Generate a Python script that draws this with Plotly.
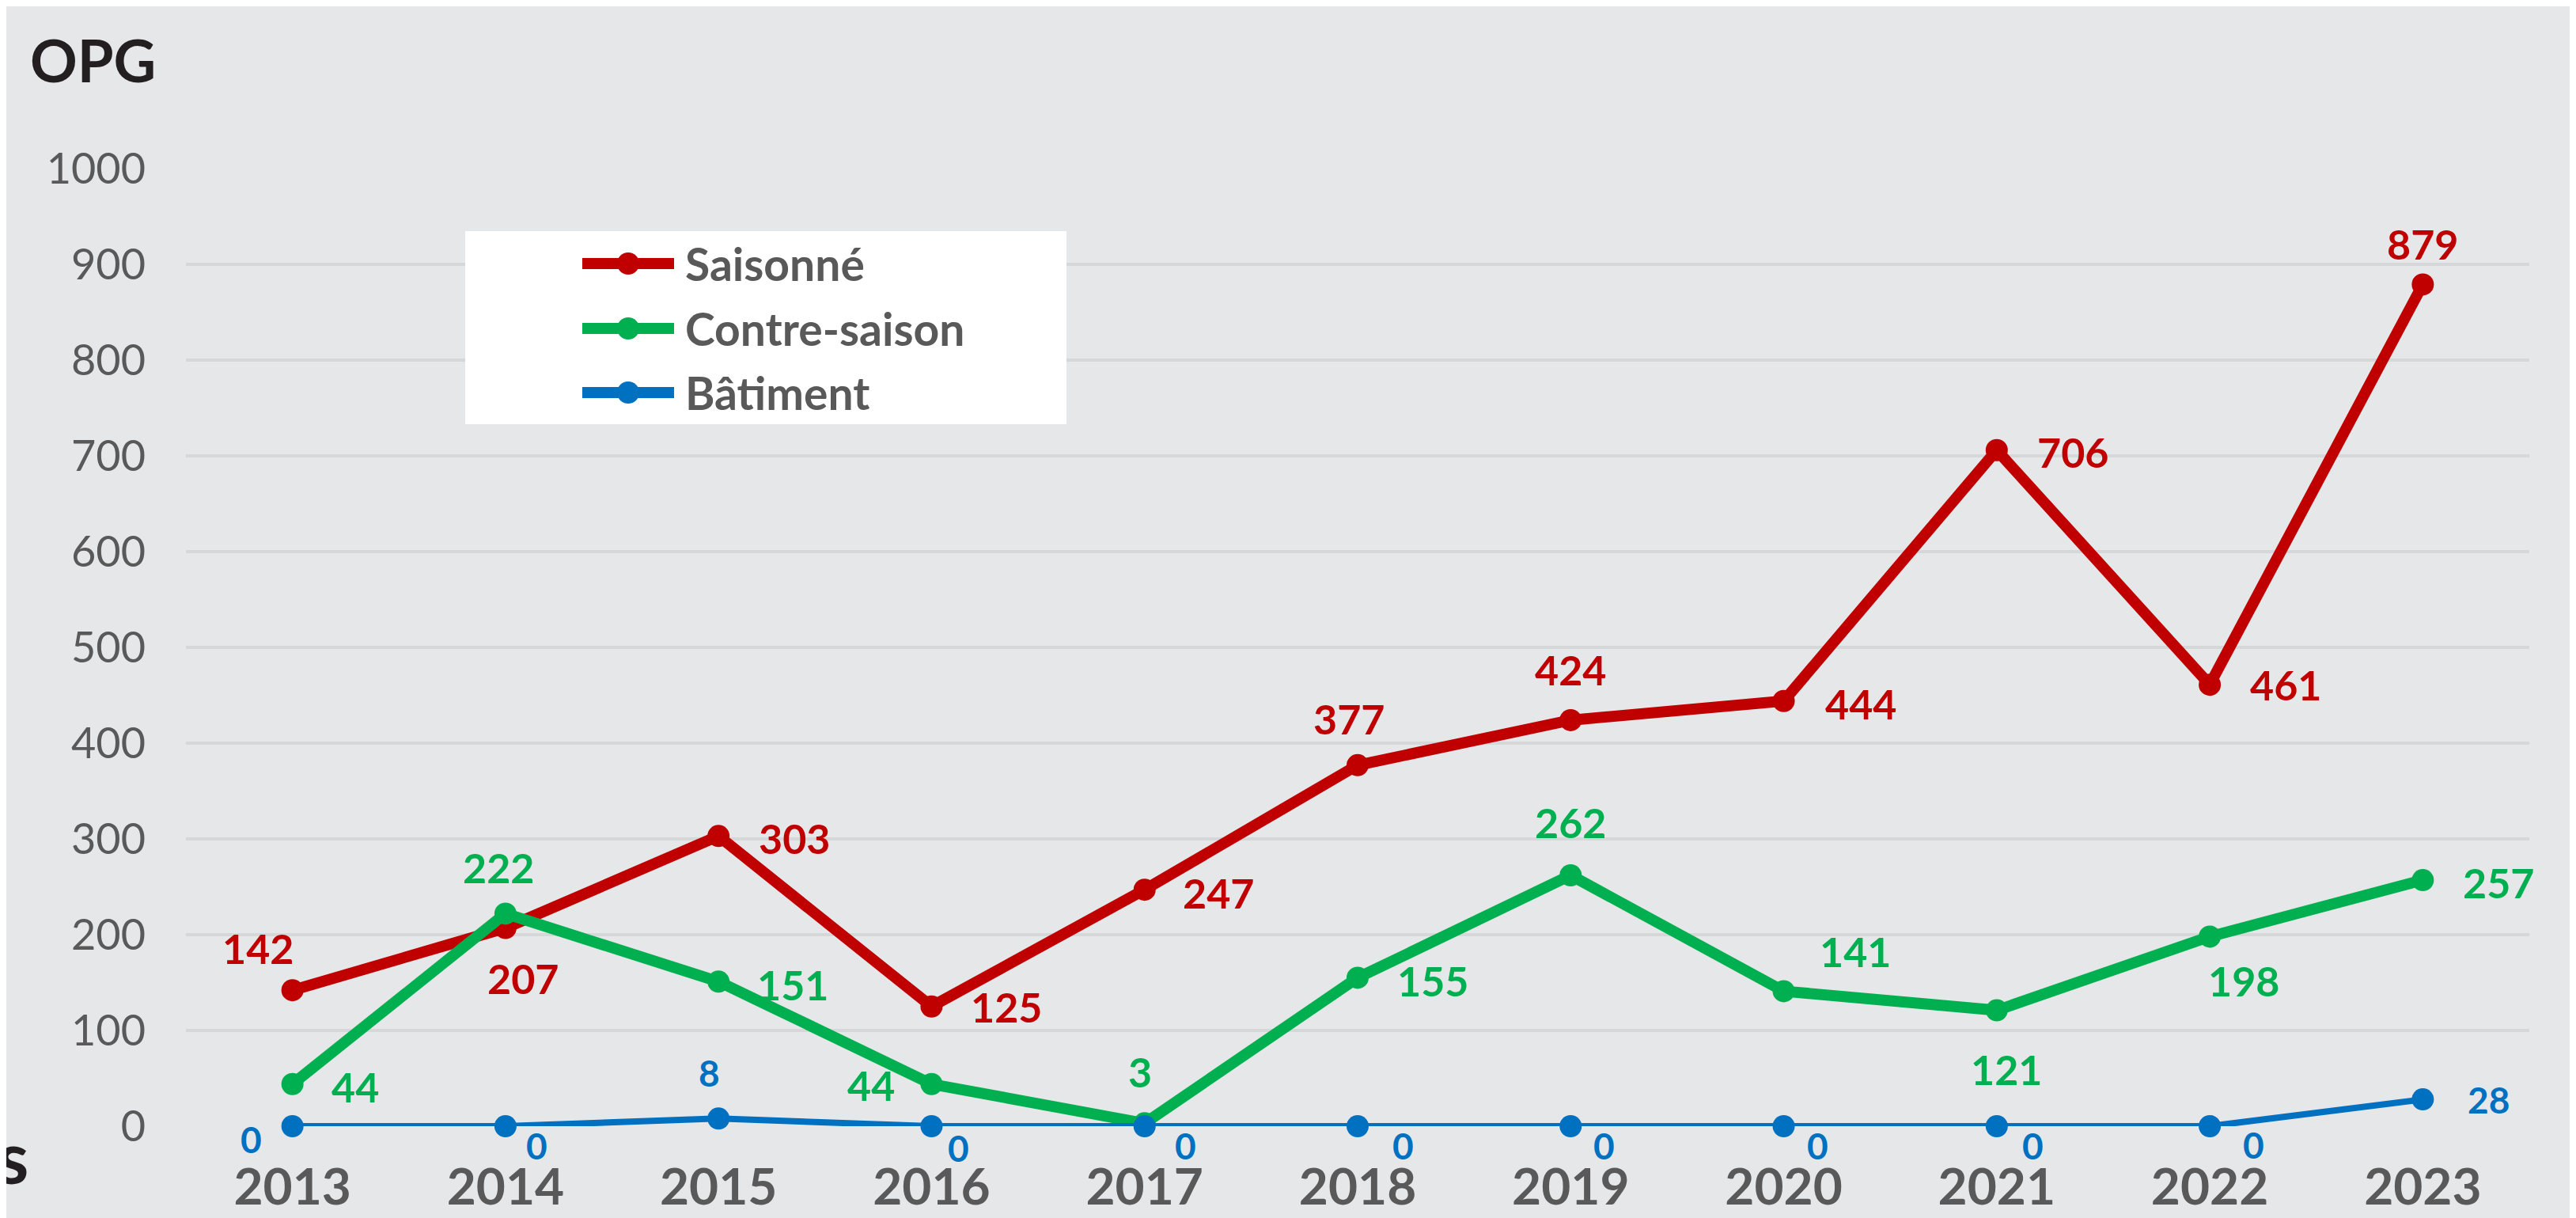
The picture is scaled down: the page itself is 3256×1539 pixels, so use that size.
import plotly.graph_objects as go

years = ["2013", "2014", "2015", "2016", "2017", "2018", "2019", "2020", "2021", "2022", "2023"]
saisonne = [142, 207, 303, 125, 247, 377, 424, 444, 706, 461, 879]
contre_saison = [44, 222, 151, 44, 3, 155, 262, 141, 121, 198, 257]
batiment = [0, 0, 8, 0, 0, 0, 0, 0, 0, 0, 28]
series_names = ["Saisonné", "Contre-saison", "Bâtiment"]
y_ticks = [0, 100, 200, 300, 400, 500, 600, 700, 800, 900, 1000]

# style: label offsets in px (xshift, yshift)
off_s = [(-44, 53), (22, -63), (96, -3), (95, 0), (93, -4), (-11, 59), (0, 64), (97, -3), (96, -2), (96, 0), (0, 51)]
off_c = [(79, -3), (-9, 58), (94, -4), (-76, -1), (-6, 65), (95, -4), (0, 67), (90, 50), (12, -74), (43, -56), (96, -3)]
off_b = [(-52, -16), (40, -24), (-12, 58), (34, -27), (52, -24), (57, -24), (42, -24), (43, -24), (46, -24), (55, -23), (83, 0)]

RED, GREEN, BLUE = "#C00000", "#00B050", "#0070C0"
BG = "#E6E7E9"
GRID = "#D6D7D9"
FONT = "Lato"

W, H = 3256, 1539
L, R, T, B = 227, 67, 205, 124
PW, PH = W - L - R, H - T - B

def px(X):
    return (X - L) / PW

def py(Y):
    return (H - B - Y) / PH

fig = go.Figure()
series = [(saisonne, RED, 14, off_s, 52), (contre_saison, GREEN, 14, off_c, 52), (batiment, BLUE, 8, off_b, 46)]
annotations = []
for name, (vals, col, lw, offs, fs) in zip(series_names, series):
    fig.add_trace(go.Scatter(
        x=years, y=vals, name=name, mode="lines+markers",
        line=dict(color=col, width=lw),
        marker=dict(color=col, size=28),
        showlegend=False, cliponaxis=False,
    ))
    for i, (yv, (dx, dy)) in enumerate(zip(vals, offs)):
        annotations.append(dict(
            x=i, y=yv, xref="x", yref="y", text=str(yv), showarrow=False,
            xshift=dx, yshift=dy, xanchor="center", yanchor="middle",
            font=dict(family=FONT, size=fs, color=col, weight="bold"),
        ))

# custom legend
shapes = [dict(type="rect", xref="paper", yref="paper",
               x0=px(580), x1=px(1340), y0=py(528), y1=py(284),
               fillcolor="white", line=dict(width=0), layer="above")]
rows = [325, 407, 488]
for name, (vals, col, lw, offs, fs), ry in zip(series_names, series, rows):
    shapes.append(dict(type="line", xref="paper", yref="paper",
                       x0=px(728), x1=px(844), y0=py(ry), y1=py(ry),
                       line=dict(color=col, width=14), layer="above"))
    shapes.append(dict(type="circle", xref="paper", yref="paper",
                       x0=px(786 - 14), x1=px(786 + 14), y0=py(ry + 14), y1=py(ry - 14),
                       fillcolor=col, line=dict(width=0), layer="above"))
    annotations.append(dict(
        x=px(856), y=py(ry), xref="paper", yref="paper", text=name, showarrow=False,
        xanchor="left", yanchor="middle",
        font=dict(family=FONT, size=57, color="#595959", weight="bold"),
    ))

# cut-off text fragment at bottom-left
annotations.append(dict(
    x=px(30), y=py(1452), xref="paper", yref="paper", text="s", showarrow=False,
    xanchor="right", yanchor="middle",
    font=dict(family=FONT, size=92, color="#231F20", weight="bold"),
))

fig.update_layout(
    width=W, height=H,
    margin=dict(l=L, r=R, t=T, b=B),
    paper_bgcolor=BG, plot_bgcolor=BG,
    title=dict(text="OPG", x=30 / W, xanchor="left", xref="container",
               y=1 - 70 / H, yanchor="middle", yref="container",
               font=dict(family=FONT, size=74, color="#231F20", weight="bold")),
    xaxis=dict(type="category", range=[-0.5, 10.5], showgrid=False, showline=False,
               zeroline=False, ticks="", ticklabelstandoff=34, automargin=False,
               tickfont=dict(family=FONT, size=64, color="#595959", weight="bold")),
    yaxis=dict(range=[0, 1000], tickvals=y_ticks, showgrid=True, gridcolor=GRID, gridwidth=4,
               zeroline=False, showline=False, ticks="", ticklabelstandoff=50, automargin=False,
               tickfont=dict(family=FONT, size=54, color="#595959")),
    shapes=shapes,
    annotations=annotations,
    showlegend=False,
)

fig.write_html("out.html")
